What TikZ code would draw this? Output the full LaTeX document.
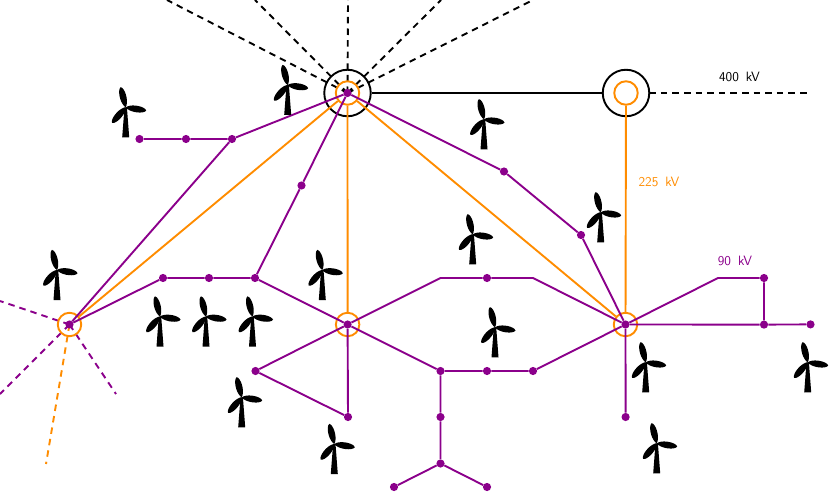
\documentclass[tikz,border=0pt]{standalone}
\definecolor{hv}{RGB}{139,0,139}
\definecolor{mv}{RGB}{255,140,0}
\newcommand{\bladeshape}{(0,0) .. controls (4,-4) and (15,-4.2) .. (19.5,-1.4) .. controls (21.2,0) .. (19.5,1.4) .. controls (15,4.2) and (4,4) .. (0,0) -- cycle}
\newcommand{\labfont}{\sffamily\fontsize{13.5}{15}\selectfont\spaceskip 7pt\relax}
\tikzset{
  x=1pt,y=-1pt,
  hvline/.style={draw=hv,line width=1.9pt},
  mvline/.style={draw=mv,line width=1.9pt},
  bkline/.style={draw=black,line width=1.9pt},
  dashpat/.style={dash pattern=on 6.5pt off 5.1pt},
  dot/.style={circle,fill=hv,inner sep=0pt,minimum size=8.2pt},
  outerring/.style={circle,draw=black,line width=1.9pt,inner sep=0pt,minimum size=46.5pt},
  innerring/.style={circle,draw=mv,line width=1.9pt,inner sep=0pt,minimum size=23.5pt},
  lab/.style={font=\labfont,inner sep=0pt,anchor=center},
  turbine/.pic={
    \fill (-1.2,0) -- (1.2,0) -- (3.5,30) -- (-3.5,30) -- cycle;
    \fill[rotate=104] \bladeshape;
    \fill[rotate=-9] \bladeshape;
    \fill[rotate=229] \bladeshape;
  }
}
\begin{document}
\begin{tikzpicture}
\useasboundingbox (0,0) rectangle (830,492);
% coordinates of the stations
\coordinate (A) at (347.5,93);
\coordinate (B) at (626,93);
\coordinate (C) at (69.5,324.5);
\coordinate (D) at (347.6,324.5);
\coordinate (E) at (625.5,324.5);
% free ends
\coordinate (a1) at (167,0);
\coordinate (a2) at (255,0);
\coordinate (a3) at (348,0);
\coordinate (a4) at (441,0);
\coordinate (a5) at (533,0);
\coordinate (b1) at (810,93);
\coordinate (c1) at (0,301);
\coordinate (c2) at (0,394);
\coordinate (c3) at (116,394);
\coordinate (c4) at (46,464);
\coordinate (k1) at (440.5,278);
\coordinate (k2) at (533,278);
\coordinate (k3) at (718,278);
% dashed
\foreach \e in {a1,a2,a3,a4,a5} \draw[bkline,dashpat] (A) -- (\e);
\draw[bkline,dashpat] (B) -- (b1);
\foreach \e in {c1,c2,c3} \draw[hvline,dashpat] (C) -- (\e);
\draw[mvline,dashpat] (C) -- (c4);
% rings
\node[outerring,fill=white] (Bo) at (B) {};
\node[outerring] (Ao) at (A) {};
\node[innerring] (Ai) at (A) {};
\node[innerring] (Bi) at (B) {};
\node[innerring] (Ci) at (C) {};
\node[innerring] (Di) at (D) {};
\node[innerring] (Ei) at (E) {};
% lines
\draw[bkline] (Ao) -- (Bo);
\draw[mvline] (Ai) -- (Ci);
\draw[mvline] (Ai) -- (Di);
\draw[mvline] (Ai) -- (Ei);
\draw[mvline] (Bi) -- (Ei);
% dots
\foreach \n/\p in {
 p1/{139.5,139},p2/{186,139},p3/{232,139},p4/{301.5,185.5},
 p5/{163,278},p6/{209,278},p7/{255,278},p8/{255.5,371},p9/{348,417},
 q1/{440.5,371},q2/{487,371},q3/{533,371},q4/{440.5,417},q5/{440.5,463.5},
 q6/{394,487},q7/{487,487},q8/{487,278},
 r1/{504,171.5},r2/{581,235},r3/{625.6,417},r4/{764,278},r5/{764,324.6},r6/{810.5,324.4},
 A0/{347.5,93},C0/{69.5,324.5},D0/{347.6,324.5},E0/{625.5,324.5}}
 \node[dot] (\n) at (\p) {};
\draw[hvline] (p1) -- (p2) -- (p3) -- (A0);
\draw[hvline] (p3) -- (C0);
\draw[hvline] (A0) -- (p4) -- (p7);
\draw[hvline] (C0) -- (p5) -- (p6) -- (p7) -- (D0);
\draw[hvline] (D0) -- (p8) -- (p9) -- (D0);
\draw[hvline] (D0) -- (q1) -- (q2) -- (q3) -- (E0);
\draw[hvline] (q1) -- (q4) -- (q5) -- (q6);
\draw[hvline] (q5) -- (q7);
\draw[hvline] (D0) -- (k1) -- (q8) -- (k2) -- (E0);
\draw[hvline] (A0) -- (r1) -- (r2) -- (E0);
\draw[hvline] (E0) -- (r3);
\draw[hvline] (E0) -- (k3) -- (r4) -- (r5);
\draw[hvline] (E0) -- (r5) -- (r6);
% turbines
\foreach \x/\y in {287.7/85,125.7/107.3,484/119.3,600.7/212.3,472.7/234.3,322.3/270,57/270,160/316.5,206/316.5,252.5/316.5,495/327.3,645.7/362.3,241.7/397.3,334.3/444,807.7/362.3,656.7/443.3}
 \pic at (\x,\y) {turbine};
% labels
\node[lab,text=black] (l400) at (739.5,77) {400 kV};
\node[lab,text=mv] (l225) at (659,181.5) {225 kV};
\node[lab,text=hv] (l90) at (735,260.5) {90 kV};
\end{tikzpicture}
\end{document}
